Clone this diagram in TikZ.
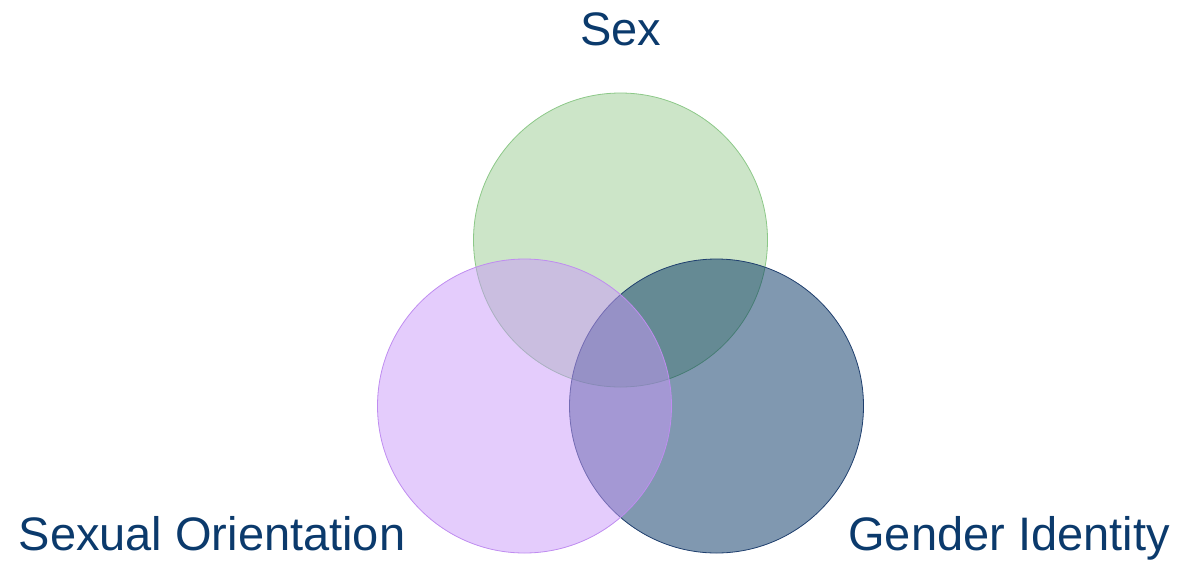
\documentclass[tikz,border=0pt]{standalone}
\usepackage{fontspec}
\setmainfont{Liberation Sans}
\definecolor{labelblue}{HTML}{0B3A6C}
\definecolor{sexgreen}{HTML}{99CB91}
\definecolor{sexedge}{HTML}{8CC888}
\definecolor{gendernavy}{HTML}{013161}
\definecolor{genderedge}{HTML}{1F3F6E}
\definecolor{orientpurple}{HTML}{C999F9}
\definecolor{orientedge}{HTML}{BF8CF0}
\begin{document}
\begin{tikzpicture}[x=1pt,y=-1pt,
  ring/.style={circle,minimum size=294pt,inner sep=0pt,fill opacity=0.5,line width=0.8pt},
  label/.style={anchor=base,text=labelblue,font=\fontsize{47}{56}\selectfont}]
\useasboundingbox (0,0) rectangle (1180,560);

\node[ring,fill=sexgreen,draw=sexedge]          (sex)    at (620.5,240) {};
\node[ring,fill=gendernavy,draw=genderedge]     (gender) at (716.5,406) {};
\node[ring,fill=orientpurple,draw=orientedge]   (orient) at (524.5,406) {};

\node[label] (sexlabel)    at (621,45)    {Sex};
\node[label] (orientlabel) at (212,550)   {Sexual Orientation};
\node[label] (genderlabel) at (1009,550)  {Gender Identity};
\end{tikzpicture}
\end{document}
